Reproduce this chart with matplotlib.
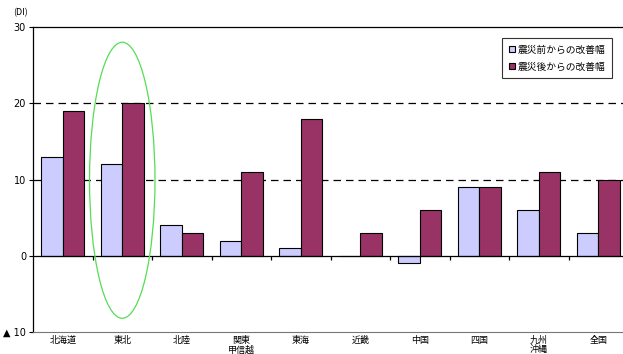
import matplotlib.pyplot as plt
import numpy as np
from matplotlib.patches import Ellipse

plt.rcParams['font.family'] = ['Noto Sans CJK JP', 'DejaVu Sans']

regions = ["北海道", "東北", "北陸", "関東\n甲信越", "東海", "近畿", "中国", "四国", "九州\n沖縄", "全国"]
before_quake = [13, 12, 4, 2, 1, 0, -1, 9, 6, 3]
after_quake = [19, 20, 3, 11, 18, 3, 6, 9, 11, 10]
ytick_vals = [-10, 0, 10, 20, 30]
ytick_text = ["▲ 10", "0", "10", "20", "30"]

fig = plt.figure(figsize=(6.23, 3.54), dpi=100)
ax = fig.add_axes([33 / 623, 22 / 354, 595 / 623, 305 / 354])

x = np.arange(len(regions))
w = 0.36
ax.bar(x - w / 2, before_quake, w, color="#CCCCFF", edgecolor="black", linewidth=0.8,
       label="震災前からの改善幅", zorder=3)
ax.bar(x + w / 2, after_quake, w, color="#993366", edgecolor="black", linewidth=0.8,
       label="震災後からの改善幅", zorder=3)

# 破線の目盛線
for v in (10, 20):
    ax.axhline(v, color="black", linestyle=(0, (6, 4)), linewidth=0.9, zorder=1)

# ゼロの軸線と区切りの目盛
ax.axhline(0, color="black", linewidth=0.9, zorder=4)
ax.vlines(x[:-1] + 0.5, -0.5, 0, color="black", linewidth=0.9, zorder=4)

# 東北を囲む楕円
ax.add_patch(Ellipse((1, 9.9), 1.1, 36.2, fill=False, edgecolor="#55DD55",
                     linewidth=0.9, zorder=5))

ax.set_xlim(-0.5, len(regions) - 0.5)
ax.set_ylim(-10, 30)
ax.set_yticks(ytick_vals)
ax.set_yticklabels(ytick_text, fontsize=7, family=["DejaVu Sans"])
ax.set_xticks(x)
ax.set_xticklabels(regions, fontsize=6.5, linespacing=1.0, va="top")
ax.tick_params(axis="x", length=0, pad=3)
ax.tick_params(axis="y", length=3, width=0.8, pad=2)

for s in ("left", "top"):
    ax.spines[s].set_color("black")
    ax.spines[s].set_linewidth(0.9)
ax.spines["bottom"].set_color("#777777")
ax.spines["right"].set_visible(False)

fig.text(21 / 623, 1 - 13 / 354, "(DI)", fontsize=6.5, ha="center", va="center")

leg = ax.legend(loc="upper right", bbox_to_anchor=(584 / 595, 1 - 6 / 305), fontsize=7,
                frameon=True, fancybox=False, edgecolor="black", handlelength=0.6,
                handleheight=0.6, handletextpad=0.3, labelspacing=0.7, borderpad=0.7)
leg.get_frame().set_linewidth(0.8)

plt.savefig("out.png", dpi=100)
